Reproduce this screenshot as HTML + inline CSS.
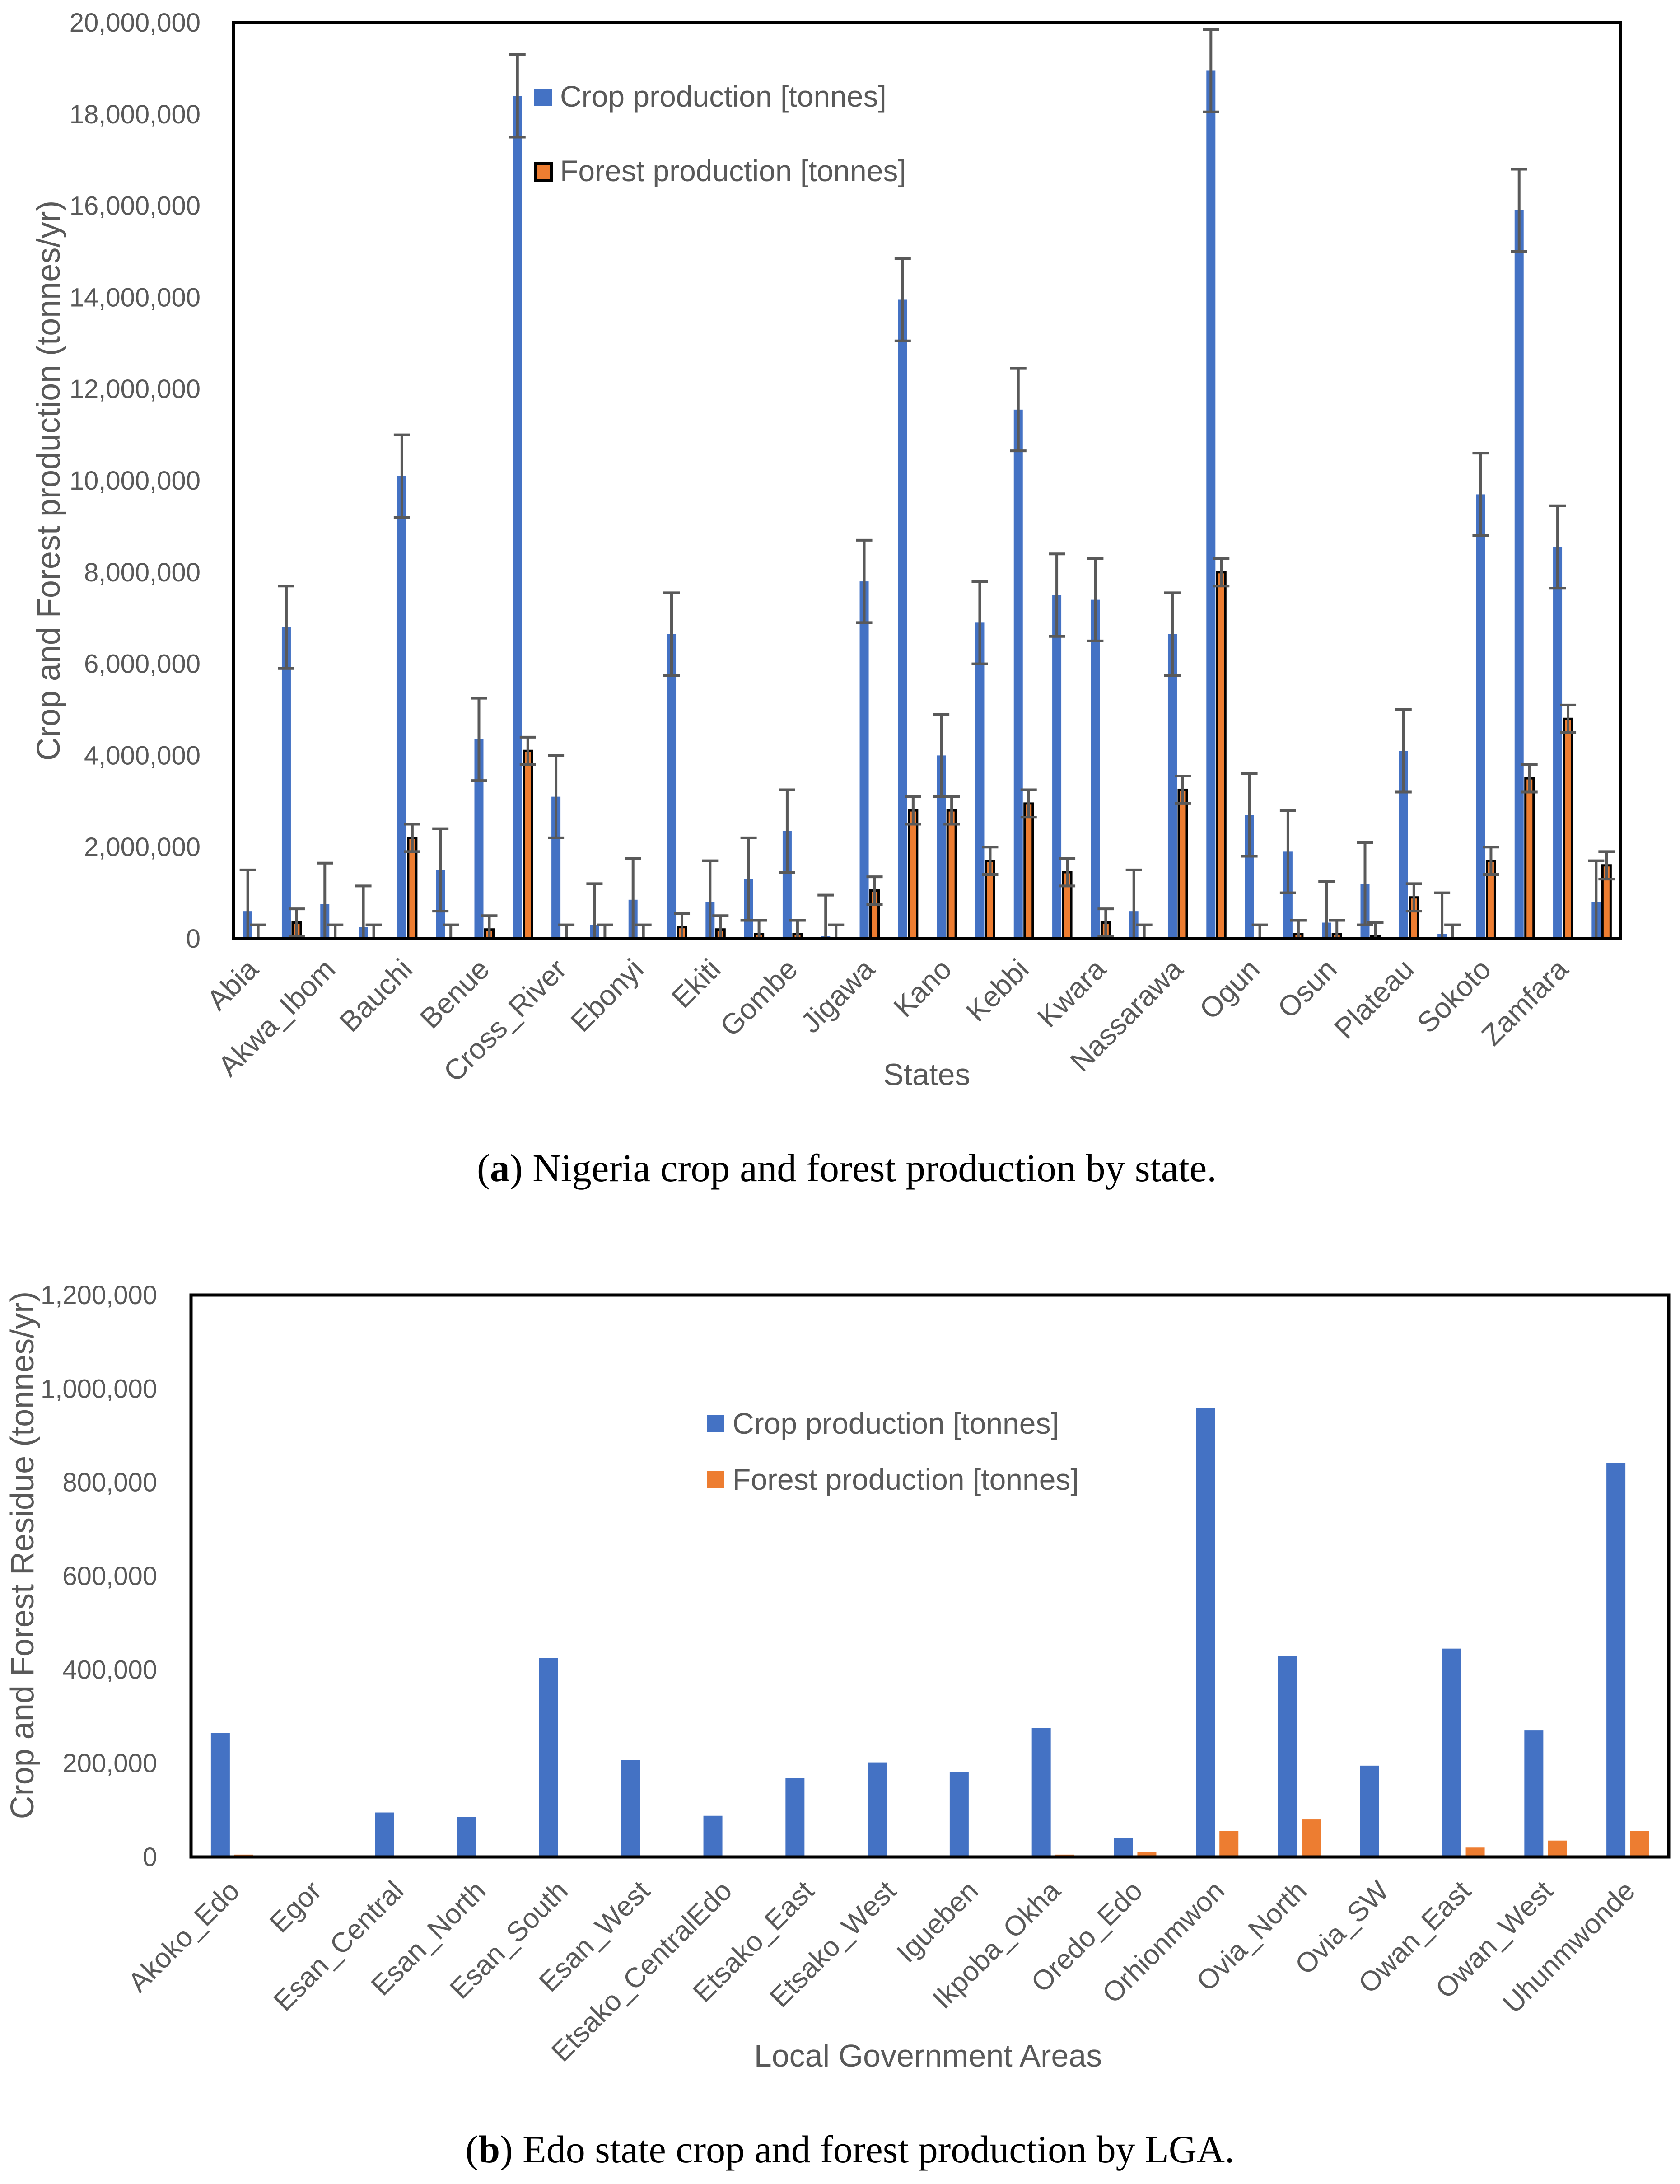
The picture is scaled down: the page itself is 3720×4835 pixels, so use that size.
<!DOCTYPE html>
<html><head><meta charset="utf-8"><style>
body{margin:0;background:#fff}
svg text{font-family:"Liberation Sans",sans-serif;fill:#595959}
</style></head><body>
<svg id="s" width="3720" height="4830" viewBox="0 0 3720 4830" xmlns="http://www.w3.org/2000/svg">
<g id="ga"></g>
<g id="gb"></g>
<text x="1875" y="2615" text-anchor="middle" style="font-family:'Liberation Serif',serif;font-size:87px;fill:#000">(<tspan font-weight="bold">a</tspan>) Nigeria crop and forest production by state.</text>
<text x="1882" y="4787" text-anchor="middle" style="font-family:'Liberation Serif',serif;font-size:86px;fill:#000">(<tspan font-weight="bold">b</tspan>) Edo state crop and forest production by LGA.</text>
</svg>
<script>
const statesA=["Abia","Adamawa","Akwa_Ibom","Anambra","Bauchi","Bayelsa","Benue","Borno","Cross_River","Delta","Ebonyi","Edo","Ekiti","Enugu","Gombe","Imo","Jigawa","Kaduna","Kano","Katsina","Kebbi","Kogi","Kwara","Lagos","Nassarawa","Niger","Ogun","Ondo","Osun","Oyo","Plateau","Rivers","Sokoto","Taraba","Zamfara","Yobe"];
const cropA=[600000,6800000,750000,250000,10100000,1500000,4350000,18400000,3100000,300000,850000,6650000,800000,1300000,2350000,50000,7800000,13950000,4000000,6900000,11550000,7500000,7400000,600000,6650000,18950000,2700000,1900000,350000,1200000,4100000,100000,9700000,15900000,8550000,800000];
const forestA=[0,350000,0,0,2200000,0,200000,4100000,0,0,0,250000,200000,100000,100000,0,1050000,2800000,2800000,1700000,2950000,1450000,350000,0,3250000,8000000,0,100000,100000,50000,900000,0,1700000,3500000,4800000,1600000];
const cropErrA=900000, forestErrA=300000;
const ticksA=[0,2000000,4000000,6000000,8000000,10000000,12000000,14000000,16000000,18000000,20000000];
const lgaB=["Akoko_Edo","Egor","Esan_Central","Esan_North","Esan_South","Esan_West","Etsako_CentralEdo","Etsako_East","Etsako_West","Igueben","Ikpoba_Okha","Oredo_Edo","Orhionmwon","Ovia_North","Ovia_SW","Owan_East","Owan_West","Uhunmwonde"];
const cropB=[265000,0,95000,85000,425000,207000,88000,168000,202000,182000,275000,40000,958000,430000,195000,445000,270000,842000];
const forestB=[5000,0,0,0,0,0,0,0,0,0,5000,10000,55000,80000,0,20000,35000,55000];
const ticksB=[0,200000,400000,600000,800000,1000000,1200000];

const NS="http://www.w3.org/2000/svg";
function mk(p,t,a,txt){const e=document.createElementNS(NS,t);for(const k in a)e.setAttribute(k,a[k]);if(txt!==undefined)e.textContent=txt;p.appendChild(e);return e;}
const fmt=v=>v.toLocaleString('en-US');

// Chart A
const ga=document.getElementById('ga');
const AL=517,AR=3588,AT=50,AB=2078,AMAX=20000000;
const ya=v=>AB-(v/AMAX)*(AB-AT);
const gwA=(AR-AL)/statesA.length;
const xa=i=>AL+gwA*(i+0.5);
ticksA.forEach(t=>{const e=mk(ga,'text',{x:444,y:ya(t)+20,'text-anchor':'end',style:'font-family:"Liberation Sans Narrow","Liberation Sans",sans-serif;font-size:58px'},fmt(t));

});
function errBar(p,x,v,e,y,half){const lo=Math.max(0,v-e),hi=v+e;
const g=mk(p,'g',{stroke:'#595959','stroke-width':6});


mk(g,'line',{x1:x,x2:x,y1:y(lo),y2:y(hi)});
mk(g,'line',{x1:x-half,x2:x+half,y1:y(hi),y2:y(hi)});
mk(g,'line',{x1:x-half,x2:x+half,y1:y(lo),y2:y(lo)});}
statesA.forEach((s,i)=>{const c=xa(i);
const b=mk(ga,'rect',{x:c-21,y:ya(cropA[i]),width:20,height:AB-ya(cropA[i]),fill:'#4472C4'});


if(forestA[i]>0){const o=mk(ga,'rect',{x:c+3,y:ya(forestA[i]),width:18,height:AB-ya(forestA[i]),fill:'#ED7D31',stroke:'#000','stroke-width':5});

}
errBar(ga,c-11,cropA[i],cropErrA,ya,18);
errBar(ga,c+12,forestA[i],forestErrA,ya,18);
if(i%2===0){const t=mk(ga,'text',{x:c+16,y:2150,'text-anchor':'end',transform:`rotate(-45 ${c+16} 2150)`,style:'font-size:64px'},s);

}
});
const fa=mk(ga,'rect',{x:AL,y:AT,width:AR-AL,height:AB-AT,fill:'none',stroke:'#000','stroke-width':7});


let t=mk(ga,'text',{x:132,y:1064,'text-anchor':'middle',transform:'rotate(-90 132 1064)',style:'font-size:72px'},'Crop and Forest production (tonnes/yr)');


t=mk(ga,'text',{x:2052,y:2402,'text-anchor':'middle',style:'font-size:68px'},'States');


let r=mk(ga,'rect',{x:1183,y:196,width:40,height:38,fill:'#4472C4'});


t=mk(ga,'text',{x:1240,y:236,style:'font-size:66px'},'Crop production [tonnes]');


r=mk(ga,'rect',{x:1185,y:362,width:36,height:38,fill:'#ED7D31',stroke:'#000','stroke-width':6});


t=mk(ga,'text',{x:1240,y:401,style:'font-size:66px'},'Forest production [tonnes]');



// Chart B
const gb=document.getElementById('gb');
const BL=423,BR=3695,BT=2867,BB=4111,BMAX=1200000;
const yb=v=>BB-(v/BMAX)*(BB-BT);
const gwB=(BR-BL)/lgaB.length;
const xb=i=>BL+gwB*(i+0.5);
ticksB.forEach(v=>{const e=mk(gb,'text',{x:348,y:yb(v)+20,'text-anchor':'end',style:'font-size:58px'},fmt(v));

});
lgaB.forEach((s,i)=>{const c=xb(i);
const b=mk(gb,'rect',{x:c-47,y:yb(cropB[i]),width:42,height:BB-yb(cropB[i]),fill:'#4472C4'});


const o=mk(gb,'rect',{x:c+5,y:yb(forestB[i]),width:42,height:BB-yb(forestB[i]),fill:'#ED7D31'});


const tt=mk(gb,'text',{x:c+20,y:4190,'text-anchor':'end',transform:`rotate(-45 ${c+20} 4190)`,style:'font-size:62px'},s);


});
const fb=mk(gb,'rect',{x:BL,y:BT,width:BR-BL,height:BB-BT,fill:'none',stroke:'#000','stroke-width':7});


t=mk(gb,'text',{x:74,y:3443,'text-anchor':'middle',transform:'rotate(-90 74 3443)',style:'font-size:72px'},'Crop and Forest Residue (tonnes/yr)');


t=mk(gb,'text',{x:2055,y:4575,'text-anchor':'middle',style:'font-size:70px'},'Local Government Areas');


r=mk(gb,'rect',{x:1565,y:3132,width:38,height:38,fill:'#4472C4'});


t=mk(gb,'text',{x:1622,y:3174,style:'font-size:66px'},'Crop production [tonnes]');


r=mk(gb,'rect',{x:1565,y:3256,width:38,height:38,fill:'#ED7D31'});


t=mk(gb,'text',{x:1622,y:3298,style:'font-size:66px'},'Forest production [tonnes]');


</script>
</body></html>
